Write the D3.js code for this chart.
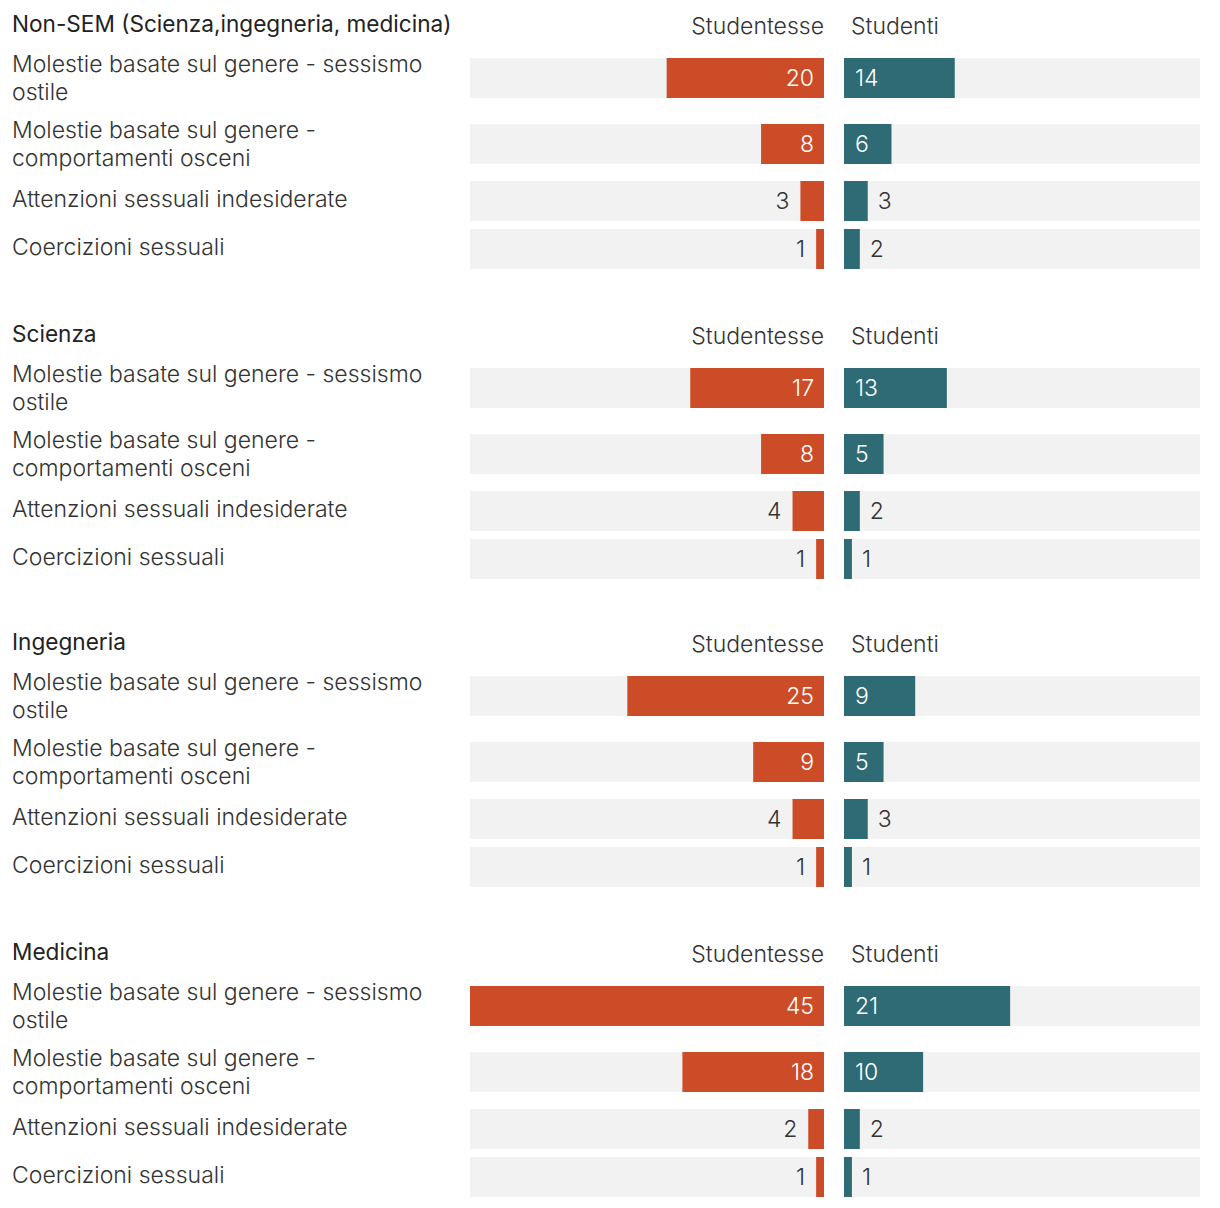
<!DOCTYPE html>
<html>
<head>
<meta charset="utf-8">
<script src="https://cdn.jsdelivr.net/npm/d3@7"></script>
<style>
  html, body { margin: 0; padding: 0; background: #ffffff; }
  svg text { font-family: Inter, "Noto Sans", sans-serif; }
</style>
</head>
<body>
<svg id="chart" width="1220" height="1208"></svg>
<script>
// ---- data ----
const groups = [
  "Non-SEM (Scienza,ingegneria, medicina)",
  "Scienza",
  "Ingegneria",
  "Medicina"
];
const categories = [
  "Molestie basate sul genere - sessismo ostile",
  "Molestie basate sul genere - comportamenti osceni",
  "Attenzioni sessuali indesiderate",
  "Coercizioni sessuali"
];
const seriesNames = ["Studentesse", "Studenti"];
const femaleValues = [
  [20, 8, 3, 1],
  [17, 8, 4, 1],
  [25, 9, 4, 1],
  [45, 18, 2, 1]
];
const maleValues = [
  [14, 6, 3, 2],
  [13, 5, 2, 1],
  [9, 5, 3, 1],
  [21, 10, 2, 1]
];

// ---- layout ----
const svg = d3.select("#chart");
const labelX = 12;
const fLeft = 470, fRight = 824, mLeft = 844, mRight = 1200;
const barH = 40;
const groupTop = [24, 334, 642, 952];      // title centre per group
const rowOffset = [54, 120, 177, 225];     // bar centre offset from title centre
const fontSize = 23;
const titleSize = 22.6;
const colF = "#cd4c28", colM = "#2e6b75", colBg = "#f2f2f2", colText = "#333333";

const maxV = d3.max([...femaleValues.flat(), ...maleValues.flat()]);
const xF = d3.scaleLinear().domain([0, maxV]).range([fRight, fLeft]);
const xM = d3.scaleLinear().domain([0, maxV]).range([mLeft, mRight]);

function wrapLines(text, maxWidth) {
  const tmp = svg.append("text").attr("font-size", fontSize).attr("font-weight", 300);
  const words = text.split(" ");
  const lines = [];
  let cur = "";
  words.forEach(w => {
    const test = cur ? cur + " " + w : w;
    tmp.text(test);
    if (tmp.node().getComputedTextLength() > maxWidth && cur) {
      lines.push(cur);
      cur = w;
    } else cur = test;
  });
  if (cur) lines.push(cur);
  tmp.remove();
  return lines;
}

groups.forEach((g, gi) => {
  const gy = groupTop[gi];
  const G = svg.append("g");

  G.append("text")
    .attr("x", labelX).attr("y", gy)
    .attr("dy", "0.35em")
    .attr("font-size", titleSize).attr("font-weight", 400)
    .attr("fill", "#222").text(g);

  G.append("text")
    .attr("x", fRight).attr("y", gy + 2).attr("dy", "0.35em")
    .attr("text-anchor", "end")
    .attr("font-size", fontSize).attr("font-weight", 300)
    .attr("fill", colText).text(seriesNames[0]);
  G.append("text")
    .attr("x", mLeft + 7).attr("y", gy + 2).attr("dy", "0.35em")
    .attr("font-size", fontSize).attr("font-weight", 300)
    .attr("fill", colText).text(seriesNames[1]);

  categories.forEach((c, ci) => {
    const cy = gy + rowOffset[ci];
    const lines = wrapLines(c, 440);
    const lh = 28;
    const t = G.append("text")
      .attr("font-size", fontSize).attr("font-weight", 300)
      .attr("fill", colText);
    lines.forEach((ln, li) => {
      t.append("tspan")
        .attr("x", labelX)
        .attr("y", cy + (li - (lines.length - 1) / 2) * lh + (lines.length > 1 ? 0 : -2))
        .attr("dy", "0.35em")
        .text(ln);
    });

    // background tracks
    G.append("rect").attr("x", fLeft).attr("y", cy - barH / 2)
      .attr("width", fRight - fLeft).attr("height", barH).attr("fill", colBg);
    G.append("rect").attr("x", mLeft).attr("y", cy - barH / 2)
      .attr("width", mRight - mLeft).attr("height", barH).attr("fill", colBg);

    const fv = femaleValues[gi][ci];
    const mv = maleValues[gi][ci];
    G.append("rect").attr("x", xF(fv)).attr("y", cy - barH / 2)
      .attr("width", fRight - xF(fv)).attr("height", barH).attr("fill", colF);
    G.append("rect").attr("x", mLeft).attr("y", cy - barH / 2)
      .attr("width", xM(mv) - mLeft).attr("height", barH).attr("fill", colM);

    const fw = fRight - xF(fv);
    const fIn = fw > 36;
    G.append("text")
      .attr("x", fIn ? fRight - 10 : xF(fv) - 11)
      .attr("y", cy).attr("dy", "0.35em")
      .attr("text-anchor", "end")
      .attr("font-size", fontSize).attr("font-weight", 300)
      .attr("fill", fIn ? "#ffffff" : colText)
      .text(fv);

    const mw = xM(mv) - mLeft;
    const mIn = mw > 36;
    G.append("text")
      .attr("x", mIn ? mLeft + 11 : xM(mv) + 10)
      .attr("y", cy).attr("dy", "0.35em")
      .attr("text-anchor", "start")
      .attr("font-size", fontSize).attr("font-weight", 300)
      .attr("fill", mIn ? "#ffffff" : colText)
      .text(mv);
  });
});
</script>
</body>
</html>
